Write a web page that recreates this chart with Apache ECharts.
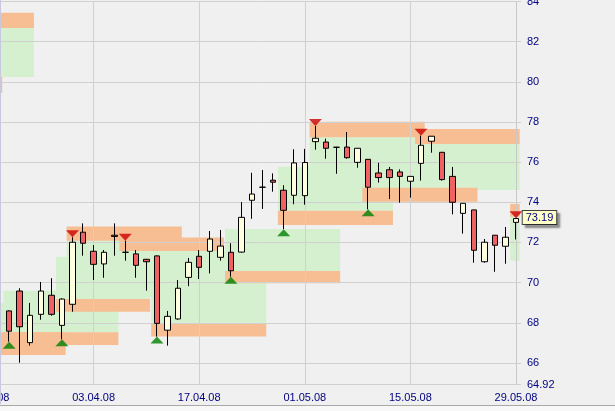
<!DOCTYPE html>
<html><head><meta charset="utf-8">
<script src="https://cdn.jsdelivr.net/npm/echarts@6/dist/echarts.min.js"></script>
<style>html,body{margin:0;padding:0;background:#F0F0F0}#c{width:615px;height:411px}</style>
</head><body><div id="c"></div>
<script>
// trading days (category axis), the first two fall left of the visible candles
const dates = ['20.03.08','21.03.08','24.03.08','25.03.08','26.03.08','27.03.08','28.03.08','31.03.08','01.04.08','02.04.08',
'03.04.08','04.04.08','07.04.08','08.04.08','09.04.08','10.04.08','11.04.08','14.04.08','15.04.08','16.04.08',
'17.04.08','18.04.08','21.04.08','22.04.08','23.04.08','24.04.08','25.04.08','28.04.08','29.04.08','30.04.08',
'01.05.08','02.05.08','05.05.08','06.05.08','07.05.08','08.05.08','09.05.08','12.05.08','13.05.08','14.05.08',
'15.05.08','16.05.08','19.05.08','20.05.08','21.05.08','22.05.08','23.05.08','26.05.08','27.05.08','28.05.08','29.05.08'];
const firstCandle = 2;
const openV  = [68.59,69.58,67.01,68.42,69.37,67.87,68.92,72.51,71.56,70.93,72.36,71.51,71.43,71.16,71.33,67.63,68.19,70.26,71.31,71.56,71.26,71.51,71.52,74.10,74.75,75.10,74.60,74.35,74.33,77.02,77.00,76.74,76.75,75.99,76.14,75.46,75.62,75.51,75.05,75.94,77.04,76.49,75.29,73.45,73.62,71.04,72.36,71.81,73.00];
const closeV = [67.58,67.80,68.37,69.58,68.42,69.18,72.01,71.96,70.91,71.51,72.30,71.51,70.86,71.04,67.97,68.32,69.72,71.01,70.76,72.17,71.82,70.59,73.25,74.41,74.75,75.00,73.60,75.96,75.98,77.19,76.69,76.74,76.22,76.69,74.75,75.23,75.23,75.29,75.29,76.84,77.29,75.13,74.00,73.95,71.61,72.01,71.86,72.26,73.19];
const lowV   = [67.06,66.01,66.86,68.15,68.35,67.18,68.55,71.34,70.13,70.24,71.34,71.09,70.24,69.60,67.31,66.86,68.15,69.82,70.18,70.46,71.09,70.29,71.49,73.18,73.67,74.53,72.66,73.90,73.88,76.62,76.17,75.42,76.17,75.72,73.65,74.98,74.16,73.98,74.23,75.08,76.47,75.08,73.40,72.44,70.99,70.99,70.54,70.94,72.15];
const highV  = [68.62,69.72,68.99,70.03,70.22,69.22,72.26,72.95,71.87,71.62,72.95,72.09,71.62,71.18,71.35,68.59,70.13,71.23,71.62,72.57,72.62,71.96,74.01,75.47,75.61,75.44,74.85,76.64,76.66,77.80,77.17,76.76,77.50,76.70,76.15,75.97,75.76,75.64,75.30,77.32,77.30,76.50,75.76,73.96,73.63,72.17,72.37,72.77,73.20];
const buySignals  = [0,5,14,21,26,34];
const sellSignals = [6,11,29,39,48];
// zones (candle index from / to, orange band and green area in price)
const zoneFrom = [-4,-4,-4,0,5,6,11,14,21,26,29,34,39,48];
const zoneTo   = [2,-1,5,10,13,16,20,24,31,36,39,44,48,48];
const bandLow  = [82.68,79.44,66.39,66.89,68.55,72.09,71.57,67.31,69.97,72.87,77.24,74.03,76.90,73.28];
const bandHigh = [83.44,80.24,67.53,67.53,69.18,72.79,72.24,67.97,70.58,73.58,78.01,74.73,77.65,73.92];
const fillLow  = [80.24,79.44,67.53,67.53,69.18,69.30,69.30,67.97,70.58,73.58,74.40,74.73,74.61,71.09];
const fillHigh = [82.68,79.44,69.00,69.60,71.29,72.09,71.57,71.57,72.67,75.77,77.24,76.50,76.90,73.28];
const yMin = 64.92, yMax = 84;
const lastPrice = 73.19;

const candleData = dates.map((d, j) => {
  const i = j - firstCandle;
  return i < 0 ? ['-','-','-','-'] : [openV[i], closeV[i], lowV[i], highV[i]];
});
const zoneIdx = zoneFrom.map((_, k) => [k, bandLow[k]]);

function zoneRenderer(lowArr, highArr, color) {
  return function (params, api) {
    const k = api.value(0);
    if (lowArr[k] === highArr[k]) return null;
    const p0 = api.coord([0, lowArr[k]]);
    const p1 = api.coord([1, highArr[k]]);
    const step = p1[0] - p0[0];
    const xa = p0[0] + (firstCandle + zoneFrom[k] - 0.55) * step;
    const xb = p0[0] + (firstCandle + zoneTo[k] + 0.35) * step;
    return { type: 'rect', shape: { x: xa, y: p1[1], width: xb - xa, height: p0[1] - p1[1] },
      style: { fill: color } };
  };
}

const chart = echarts.init(document.getElementById('c'), null, { renderer: 'canvas' });
chart.setOption({
  backgroundColor: '#F0F0F0',
  animation: false,
  grid: { left: -12, right: 99, top: 1.5, bottom: 26.4, outerBoundsMode: 'none', containLabel: false },
  xAxis: {
    type: 'category', data: dates, boundaryGap: false,
    axisLine: { lineStyle: { color: '#D0D0D0' } },
    axisTick: { show: false, interval: 9 },
    axisLabel: { interval: 9, color: '#000080', fontSize: 11, fontFamily: 'Liberation Sans, Arial', margin: 8 },
    splitLine: { show: true, interval: 9, lineStyle: { color: '#D0D0D0' } }
  },
  yAxis: {
    type: 'value', position: 'right', min: yMin, max: yMax, splitNumber: 10, scale: true,
    axisLine: { show: true, lineStyle: { color: '#C8C8C8' } },
    axisTick: { show: true, length: 5, lineStyle: { color: '#D0D0D0' } },
    axisLabel: { color: '#000080', fontSize: 11, fontFamily: 'Liberation Sans, Arial', margin: 11 },
    splitLine: { lineStyle: { color: '#D0D0D0' } }
  },
  series: [
    { type: 'custom', z: -2, clip: false, data: zoneIdx, renderItem: zoneRenderer(fillLow, fillHigh, '#D4F0CE') },
    { type: 'custom', z: -1, clip: false, data: zoneIdx, renderItem: zoneRenderer(bandLow, bandHigh, '#F6BE92') },
    { type: 'candlestick', z: 3, data: candleData, barWidth: 6,
      itemStyle: { color: '#FFFFE0', color0: '#F06262', borderColor: '#000', borderColor0: '#000', borderColorDoji: '#000', borderWidth: 1 },
      markPoint: {
        symbol: 'rect', symbolSize: 0, silent: true,
        data: [{ coord: [dates.length - 1, lastPrice], value: lastPrice }],
        label: { show: true, position: 'inside', offset: [23.5, -1], formatter: (p) => p.value.toFixed(2),
          color: '#000080', fontSize: 11, fontFamily: 'Liberation Sans, Arial', lineHeight: 12,
          backgroundColor: '#FFFFC8', borderColor: '#404040', borderWidth: 1, padding: [1, 3, 0, 3],
          shadowColor: 'rgba(0,0,0,0.35)', shadowBlur: 2, shadowOffsetX: 3, shadowOffsetY: 3 }
      }
    },
    { type: 'scatter', z: 4, symbol: 'triangle', symbolSize: [13, 7], symbolOffset: [0, 3.5],
      itemStyle: { color: '#008000' }, data: buySignals.map(i => [firstCandle + i, lowV[i]]) },
    { type: 'scatter', z: 4, symbol: 'triangle', symbolSize: [13, 7], symbolRotate: 180, symbolOffset: [0, -3.5],
      itemStyle: { color: '#CC0000' }, data: sellSignals.map(i => [firstCandle + i, highV[i]]) }
  ],
  graphic: [
    { type: 'line', shape: { x1: 0.5, y1: 0, x2: 0.5, y2: 404 }, style: { stroke: '#C8C8DC', lineWidth: 1 }, z: 10 },
    { type: 'rect', shape: { x: 0, y: 405, width: 615, height: 6 }, style: { fill: '#F8F8F8' }, z: 10 },
    { type: 'line', shape: { x1: 0, y1: 405.5, x2: 615, y2: 405.5 }, style: { stroke: '#A8A8A8', lineWidth: 1 }, z: 10 }
  ]
});
</script></body></html>
